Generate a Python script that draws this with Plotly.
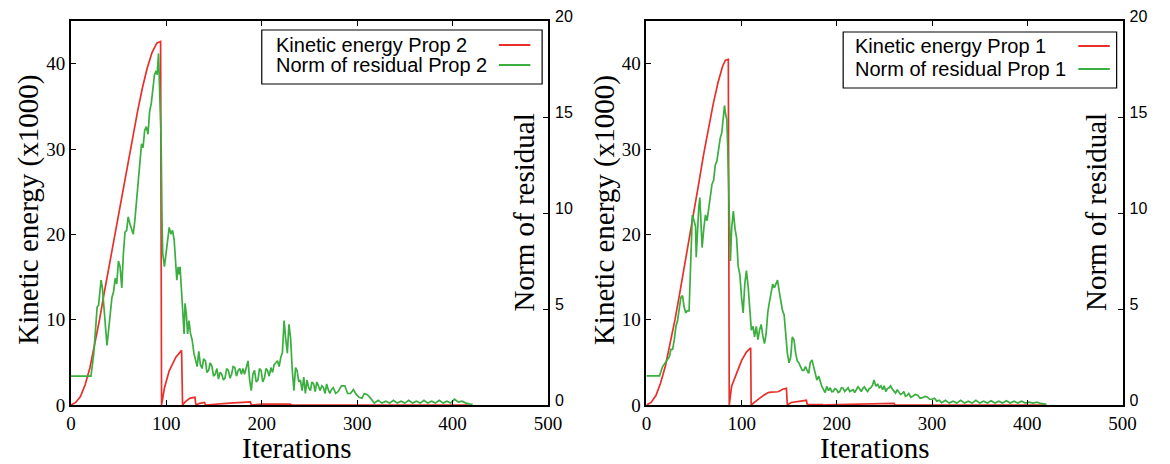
import plotly.graph_objects as go

# ---------------- data ----------------
iter_ticks = [0, 100, 200, 300, 400, 500]
ke_ticks = [0, 10, 20, 30, 40]
res_ticks = [0, 5, 10, 15, 20]

# Left panel: Prop 2
ke2_it = [0, 5, 10, 15, 20, 25, 30, 35, 40, 45, 50, 55, 60, 65, 70, 75, 80, 85, 90, 92, 94,
          95, 98, 103, 110, 116, 117, 120, 125, 130, 131, 135, 140, 141, 150, 160, 170, 180,
          188, 189, 200, 215, 230, 231, 300, 420]
ke2_val = [0, 0.3, 1.0, 2.4, 4.4, 7.0, 10.0, 13.2, 16.3, 19.3, 22.3, 25.4, 28.5, 31.6, 34.5,
           37.2, 39.5, 41.3, 42.4, 42.5, 42.6,
           0, 2.0, 4.0, 5.6, 6.4, 0, 0.4, 0.8, 0.9, 0, 0.2, 0.3, 0, 0.1, 0.2, 0.25, 0.3,
           0.35, 0, 0.1, 0.1, 0.1, 0, 0, 0]

res2_it = [0, 21, 24, 27.5, 29, 31.6, 33, 34.4, 36, 37.8, 39.5, 41, 43, 44.7, 46.4, 48, 49.8,
           51.5, 53.3, 55, 56.7, 58.4, 60, 62, 63.6, 65.3, 67, 68.7, 70.4, 72, 74, 75.6, 77.3,
           79, 80.8, 82.5, 84.2, 86, 87.6, 89.3, 90.4, 91.8, 92.8, 94.5, 95.5, 96.2, 98, 99.7,
           101.4, 103, 104.8, 106.5, 108.2, 110, 111, 112.4, 113.4, 114.4, 115.8, 116.8, 118.6,
           119.6, 121, 122.3, 123.7, 125.4, 127, 128.9, 130.6, 132.3, 134, 135.7, 137.5, 139,
           141, 142.5, 144.3, 146, 147.8, 149.5, 151.2, 153, 154.6, 156.3, 158, 159.8, 161.5,
           163.2, 165, 166.7, 168.4, 170, 171.8, 173.5, 175.3, 177, 178.7, 180.3, 182, 183.8,
           185.6, 187.3, 189, 190.7, 192.4, 194.2, 196, 197.6, 199.3, 201, 202.8, 204.4, 206,
           207.8, 209.6, 211.3, 213, 214.8, 216.5, 218.2, 220, 221.6, 223.4, 225, 226.8, 228.5,
           230.2, 232, 233.7, 235.4, 237, 238.8, 240.5, 242.3, 244, 245.7, 247.4, 249.2, 251,
           252.6, 254.3, 256, 257.7, 259.4, 261, 263, 264.7, 266.3, 268, 269.7, 271.3, 273,
           275, 277.5, 280, 283.5, 287, 290, 293, 296, 299, 302, 305, 307.5, 310, 312.5, 315,
           318, 322, 326, 330, 334, 338, 342, 346, 350, 354, 358, 362, 366, 370, 374, 378,
           382, 386, 390, 394, 398, 402, 406, 410, 414, 418, 421]
res2_val = [1.5, 1.5, 2.7, 5.1, 5.2, 6.5, 6.1, 5.2, 3.9, 3.1, 3.9, 4.7, 5.6, 5.9, 6.6, 6.3, 7.5,
            7.2, 6.1, 7.9, 9.0, 9.1, 9.8, 9.4, 9.1, 8.9, 9.6, 10.6, 11.9, 12.6, 13.6, 13.4, 14.3,
            14.5, 14.1, 15.3, 15.7, 16.5, 17.2, 17.4, 17.2, 18.3, 16.9, 13.9, 9.6, 7.9, 7.2, 7.9,
            8.9, 9.25, 8.9, 9.1, 8.6, 7.5, 6.5, 7.2, 6.8, 7.2, 5.8, 5.1, 3.7,
            5.3, 4.7, 3.7, 4.4, 3.7, 3.4, 2.7, 2.3, 2.0, 2.8, 2.1, 1.9, 2.4,
            2.3, 1.7, 1.8, 2.2, 2.0, 1.5, 1.6, 1.9, 1.35, 1.7, 1.6, 1.3, 1.4,
            1.9, 1.8, 1.4, 1.6, 2.0, 1.95, 1.5, 1.8, 1.9, 1.6, 1.9, 1.6, 2.0,
            2.3, 1.3, 0.75, 1.6, 1.8, 1.2, 1.3, 1.9, 1.8, 1.2, 1.4, 1.9, 1.8,
            1.5, 1.95, 1.7, 2.1, 2.2, 2.3, 2.0, 2.5, 2.7, 4.4, 3.5, 2.7, 4.2,
            3.5, 1.8, 0.75, 1.95, 1.8, 1.2, 1.3, 0.75, 1.45, 0.6, 1.3, 0.9, 0.75,
            1.2, 1.1, 0.7, 1.2, 1.0, 0.75, 1.0, 0.9, 0.6, 1.1, 0.8, 0.6, 0.8,
            0.9, 0.6, 0.7, 1.0, 1.0, 0.6, 0.6, 0.8, 0.55, 0.4, 0.35, 0.6, 0.55, 0.45, 0.3,
            0.1, 0.25, 0.1, 0.2, 0.1, 0.25, 0.1, 0.2, 0.1, 0.25, 0.1, 0.2, 0.1, 0.25, 0.1,
            0.2, 0.1, 0.25, 0.1, 0.2, 0.1, 0.3, 0.15, 0.2, 0.1, 0.05, 0.03]

# Right panel: Prop 1
ke1_it = [0, 5, 10, 15, 20, 25, 30, 35, 40, 45, 50, 55, 60, 65, 70, 75, 80, 83, 86,
          87, 89.5, 94.7, 99.9, 105, 109.5, 110, 113, 119, 124, 128, 131, 138, 141, 143, 147,
          148, 152, 160, 168, 169, 170, 185, 186, 190, 220, 260, 261, 420]
ke1_val = [0, 0.3, 1.1, 2.6, 4.6, 7.2, 10.0, 13.1, 16.2, 19.4, 22.7, 26.0, 29.3, 32.4, 35.2,
           37.7, 39.7, 40.4, 40.5,
           0, 2.2, 3.7, 5.2, 6.2, 6.7, 0, 0.3, 0.8, 1.2, 1.45, 1.5, 1.55, 1.7, 1.85, 1.95,
           0, 0.3, 0.45, 0.55, 0, 0.05, 0.05, 0, 0.02, 0.1, 0.2, 0, 0]

res1_it = [0, 13.8, 17, 20.7, 24, 25.8, 27.5, 29.3, 31, 32.7, 34.4, 36.2, 37.9, 39.6, 41.3, 43,
           44.8, 46.5, 48.2, 50, 51.6, 52.3, 53.4, 55, 56.1, 57.5, 58.5, 60.3, 62, 63.7, 65.4,
           67, 68.9, 70.6, 72.3, 74, 75.8, 77.5, 79.2, 81, 82, 83.3, 84.4, 85.4, 86.8, 88.2,
           89.5, 91.3, 93, 94.7, 96.4, 98.1, 99.9, 101.6, 103.3, 105, 106.8, 108.5, 110.2, 112,
           113.6, 115.4, 117.1, 118.8, 120.5, 122.3, 124, 125.7, 127.4, 129, 130.9, 132.6,
           134.3, 136, 137.7, 139.5, 141.2, 143, 144.6, 146.3, 148, 149.8, 151.5, 153.2, 155,
           156.7, 158.4, 160, 162, 163.6, 165.3, 167, 168.7, 170.4, 172, 173.9, 175.6, 177.3,
           179, 181, 182.6, 184.2, 186, 187.7, 189.4, 191.2, 193, 194.5, 196, 198, 199.7, 201.4,
           203, 204.8, 206.6, 208.3, 210, 211.8, 213.5, 215.2, 217, 218.7, 220.4, 222.2, 224,
           225.6, 227.3, 229, 230.7, 232.4, 234, 235.8, 237.6, 239, 241, 242.8, 244.5, 246.2,
           248, 249.7, 251.4, 253, 254.8, 256.4, 258, 260, 261.7, 263.4, 265, 266.8, 268.6,
           270.3, 272, 273.8, 275.5, 277.7, 280, 282.5, 285, 287.5, 290, 292.5, 295, 297.5,
           300, 302.5, 305, 307.5, 310, 314, 318, 322, 326, 330,
           334, 338, 342, 346, 350, 354, 358, 362, 366, 370, 374, 378, 382, 386, 390, 394, 398,
           402, 406, 410, 414, 418, 420]
res1_val = [1.52, 1.52, 2.0, 2.3, 2.5, 2.9, 2.9, 3.4, 4.1, 4.4, 4.9, 5.6, 5.7, 5.1, 4.8, 4.9,
            4.9, 7.9, 9.9, 9.6, 9.3, 7.7, 8.9, 10.3, 10.8, 9.3, 8.2, 9.2, 9.9, 9.6, 10.3,
            11.0, 11.5, 11.7, 12.5, 12.7, 13.4, 13.9, 14.2, 14.9, 15.6, 15.1, 14.9, 13.4, 10.3,
            7.5, 9.2, 10.1, 9.2, 8.7, 7.2, 6.8, 5.6, 4.8, 6.3, 7.0, 6.2, 4.8, 3.9, 4.1,
            3.55, 4.1, 3.4, 3.9, 4.2, 3.6, 3.2, 3.7, 4.8, 5.3, 5.8, 6.3,
            6.1, 6.3, 6.5, 5.9, 5.3, 4.9, 4.7, 3.55, 2.7, 2.2, 2.5, 3.55, 3.4,
            2.7, 2.3, 2.2, 2.0, 1.8, 1.8, 2.0, 1.8, 1.65, 2.2, 2.35, 2.0, 1.65,
            1.3, 1.5, 1.15, 0.97, 0.8, 0.65, 0.97, 0.75, 0.9, 0.7, 0.7, 0.85, 0.8, 0.65,
            0.7, 0.9, 0.87, 0.7, 0.8, 0.9, 0.7, 0.75, 0.8, 0.65, 0.8, 0.95, 0.83,
            0.7, 0.87, 0.95, 0.8, 0.7, 0.85, 0.9, 1.05, 1.3, 0.97, 1.1, 0.9, 1.0,
            0.8, 1.0, 0.7, 0.85, 0.9, 1.0, 0.85, 0.75, 0.62, 0.8, 0.7, 0.55, 0.6,
            0.7, 0.45, 0.5, 0.6, 0.4, 0.47, 0.55, 0.5, 0.35, 0.38, 0.45, 0.42, 0.3,
            0.3, 0.35, 0.2, 0.25, 0.12, 0.25, 0.1, 0.2, 0.1, 0.25,
            0.1, 0.2, 0.1, 0.25, 0.1, 0.2, 0.1, 0.22, 0.1, 0.2, 0.1, 0.22, 0.1, 0.2, 0.1,
            0.2, 0.1, 0.15, 0.1, 0.15, 0.08, 0.05, 0.03]

legend_left = ["Kinetic energy Prop 2", "Norm of residual Prop 2"]
legend_right = ["Kinetic energy Prop 1", "Norm of residual Prop 1"]

# ---------------- styling ----------------
RED = "#e8302a"
GREEN = "#3aae3f"
SERIF = "Liberation Serif, Times New Roman, serif"
SANS = "Liberation Sans, Arial, sans-serif"

W, H = 1170, 464
T, B = 21, 59
PH = H - T - B


def fx(p):
    return p / W


def fy(p):
    return (H - B - p) / PH


fig = go.Figure()
fig.add_trace(go.Scatter(x=ke2_it, y=ke2_val, mode="lines", line=dict(color=RED, width=1.7),
                         xaxis="x", yaxis="y", name=legend_left[0]))
fig.add_trace(go.Scatter(x=res2_it, y=res2_val, mode="lines", line=dict(color=GREEN, width=1.7),
                         xaxis="x", yaxis="y2", name=legend_left[1]))
fig.add_trace(go.Scatter(x=ke1_it, y=ke1_val, mode="lines", line=dict(color=RED, width=1.7),
                         xaxis="x2", yaxis="y3", name=legend_right[0]))
fig.add_trace(go.Scatter(x=res1_it, y=res1_val, mode="lines", line=dict(color=GREEN, width=1.7),
                         xaxis="x2", yaxis="y4", name=legend_right[1]))

common_x = dict(range=[0, 500], tickvals=iter_ticks, ticks="inside", ticklen=5, tickwidth=1,
                tickcolor="black", showline=True, linecolor="black", linewidth=1.5,
                mirror="ticks", showgrid=False, zeroline=False,
                tickfont=dict(family=SERIF, size=19, color="black"))
common_y = dict(range=[0, 45], tickvals=ke_ticks, ticks="inside", ticklen=5, tickwidth=1,
                tickcolor="black", showline=True, linecolor="black", linewidth=1.5,
                mirror=True, showgrid=False, zeroline=False, domain=[0, 1],
                tickfont=dict(family=SERIF, size=19, color="black"))
common_y2 = dict(range=[0, 20], tickvals=res_ticks, ticks="inside", ticklen=5, tickwidth=1,
                 tickcolor="black", showline=False, showgrid=False, zeroline=False,
                 side="right", ticklabelshift=-5, ticklabelstandoff=6,
                 tickfont=dict(family=SANS, size=16, color="black"))

fig.update_layout(
    width=W, height=H,
    margin=dict(l=0, r=0, t=T, b=B),
    paper_bgcolor="white", plot_bgcolor="white",
    showlegend=False,
    xaxis=dict(domain=[fx(67), fx(552)], anchor="y", **common_x),
    yaxis=dict(anchor="x", **common_y),
    yaxis2=dict(anchor="x", overlaying="y", **common_y2),
    xaxis2=dict(domain=[fx(652), fx(1136)], anchor="y3", **common_x),
    yaxis3=dict(anchor="x2", **common_y),
    yaxis4=dict(anchor="x2", overlaying="y3", **common_y2),
)

ann = []
shapes = []
title_font = dict(family=SERIF, size=29, color="black")
for (cx_k, cx_n, cx_i) in [(23, 528, 297), (609, 1109, 884)]:
    ann.append(dict(text="Kinetic energy (x1000)", x=fx(cx_k), y=fy(210), xref="paper",
                    yref="paper", textangle=-90, showarrow=False, font=title_font,
                    xanchor="center", yanchor="middle"))
    ann.append(dict(text="Norm of residual", x=fx(cx_n), y=fy(212), xref="paper",
                    yref="paper", textangle=-90, showarrow=False, font=title_font,
                    xanchor="center", yanchor="middle"))
    ann.append(dict(text="Iterations", x=fx(cx_i), y=fy(448), xref="paper", yref="paper",
                    showarrow=False, font=title_font, xanchor="center", yanchor="middle"))

leg_font = dict(family=SANS, size=20, color="black")
for labels, box, tx, ly, lx in [
    (legend_left, (261, 30, 546, 84), 273, (45, 65), (502, 534)),
    (legend_right, (852, 32, 1130, 88), 862, (46, 69), (1091, 1123)),
]:
    shapes.append(dict(type="rect", xref="paper", yref="paper", x0=fx(box[0]), x1=fx(box[2]),
                       y0=fy(box[3]), y1=fy(box[1]), line=dict(color="black", width=1.2),
                       fillcolor="white", layer="above"))
    for lab, yy, col in zip(labels, ly, [RED, GREEN]):
        ann.append(dict(text=lab, x=fx(tx), y=fy(yy), xref="paper", yref="paper",
                        showarrow=False, font=leg_font, xanchor="left", yanchor="middle"))
        shapes.append(dict(type="line", xref="paper", yref="paper", x0=fx(lx[0]), x1=fx(lx[1]),
                           y0=fy(yy), y1=fy(yy), line=dict(color=col, width=2), layer="above"))

fig.update_layout(annotations=ann, shapes=shapes)
fig.write_html(
    "out.html",
    config={"displayModeBar": False},
    post_script="document.body.style.margin='0';document.body.style.overflow='hidden';",
)
